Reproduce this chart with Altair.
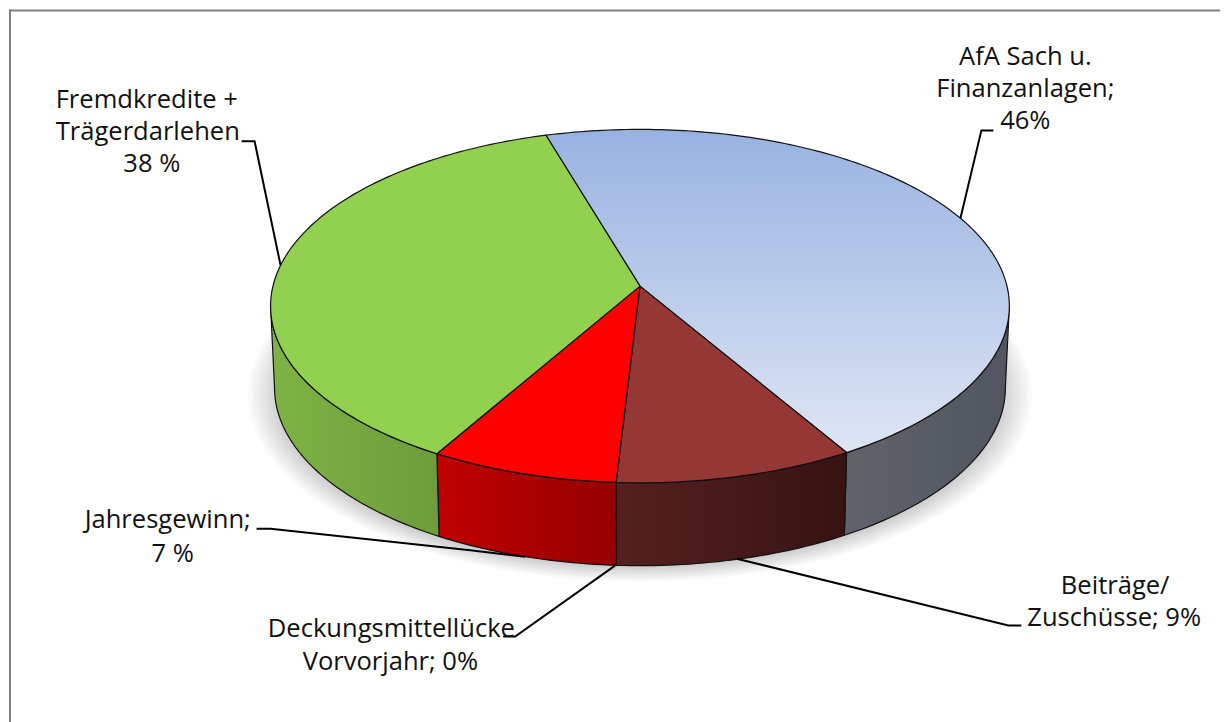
import math
import altair as alt
import pandas as pd

# Slices, clockwise from the green/blue boundary
categories = ["AfA Sach u. Finanzanlagen", "Beiträge/Zuschüsse", "Deckungsmittellücke Vorvorjahr", "Jahresgewinn", "Fremdkredite + Trägerdarlehen"]
shares = [46.1, 9.4, 0.0, 7.4, 37.1]

top_fills = [
    alt.LinearGradient(gradient="linear", x1=0, y1=0, x2=0, y2=1,
                       stops=[alt.GradientStop(offset=0, color="#98b2e0"), alt.GradientStop(offset=1, color="#dee6f4")]),
    "#953735", "#bfbfbf", "#ff0000", "#92d050",
]
side_cols = [("#606369", "#50555f"), ("#55201f", "#361312"), ("#888888", "#888888"), ("#bf0000", "#950000"), ("#7fb344", "#6d9c3c")]

label_lines = ["AfA Sach u.", "Finanzanlagen;", "46%", "Fremdkredite +", "Trägerdarlehen", "38 %", "Jahresgewinn;", "7 %",
               "Deckungsmittellücke", "Vorvorjahr; 0%", "Beiträge/", "Zuschüsse; 9%"]
label_x = [1026, 1026, 1026, 146, 147, 151, 167, 172, 391, 390, 1116, 1115]
label_y = [65, 97, 129, 108, 140, 172, 528, 562, 637, 671, 594, 626]

leaders = [
    [(994, 130), (982, 130), (961, 218)],
    [(241, 141), (254, 141), (280, 265)],
    [(256, 529), (270, 529), (470, 550.5), (525, 557)],
    [(503, 637), (515, 637), (615, 566)],
    [(737, 559), (1009, 626), (1022, 626)],
]

CX, CY, RX, RY = 640.0, 306.0, 370.0, 177.0
BCY, BRX, BRY = 388.0, 366.0, 178.0
E = 0.113
START = 106.5
S = math.sqrt(1 - E * E)


def unit(phi):
    a = math.radians(phi)
    x, y = math.cos(a), math.sin(a)
    d = 1 + E * y
    return x * S / d, (y + E) / d


def top(phi):
    x, y = unit(phi)
    return CX + RX * x, CY - RY * y


def bottom(phi):
    x, y = unit(phi)
    return CX + BRX * x, BCY - BRY * y


def arc(a, b):
    n = max(1, int(abs(b - a)))
    return [a + (b - a) * i / n for i in range(n + 1)]


def frame(points):
    return pd.DataFrame([{"px": p[0], "py": p[1], "i": i} for i, p in enumerate(points)])


xs = alt.Scale(domain=[8, 1221], nice=False, zero=False)
ys = alt.Scale(domain=[723, 9], nice=False, zero=False)


def enc(ch):
    return ch.encode(
        x=alt.X("px:Q", scale=xs, axis=None),
        y=alt.Y("py:Q", scale=ys, axis=None),
        order=alt.Order("i:Q"),
    )


layers = []

# soft shadow: nested translucent ellipses give an elliptical fade
for r in range(12):
    f = 1.0 - r * 0.0085
    sh = [(640 + 393 * f * math.cos(math.radians(a)), 395 + 187 * f * math.sin(math.radians(a))) for a in range(0, 361, 3)]
    layers.append(enc(alt.Chart(frame(sh)).mark_line(fill="#000000", fillOpacity=0.02, strokeOpacity=0)))

# slice angle ranges
bounds = [START]
for s in shares:
    bounds.append(bounds[-1] - s * 3.6)

front_right = -math.degrees(math.asin(E))
front_left = -180 - front_right

# sides
for k, s in enumerate(shares):
    if s == 0:
        continue
    a, b = bounds[k], bounds[k + 1]
    a2 = max(min(a, front_right), front_left)
    b2 = max(min(b, front_right), front_left)
    if a2 <= b2:
        continue
    phis = arc(a2, b2)
    pts = [top(p) for p in phis] + [bottom(p) for p in reversed(phis)]
    pts.append(pts[0])
    c0, c1 = side_cols[k]
    g = alt.LinearGradient(gradient="linear", x1=0, y1=0, x2=1, y2=0,
                           stops=[alt.GradientStop(offset=0, color=c0), alt.GradientStop(offset=1, color=c1)])
    layers.append(enc(alt.Chart(frame(pts)).mark_line(fill=g, stroke="#111111", strokeWidth=1.2, strokeJoin="round")))

# tops
apex = (CX, CY - RY * E)
for k, s in enumerate(shares):
    if s == 0:
        continue
    pts = [apex] + [top(p) for p in arc(bounds[k], bounds[k + 1])] + [apex]
    layers.append(enc(alt.Chart(frame(pts)).mark_line(fill=top_fills[k], stroke="#111111", strokeWidth=1.2, strokeJoin="round")))

# leaders
for pts in leaders:
    layers.append(enc(alt.Chart(frame(pts)).mark_line(stroke="#000000", strokeWidth=2)))

# labels
labels = pd.DataFrame({"t": label_lines, "px": label_x, "py": label_y})
layers.append(alt.Chart(labels).mark_text(font="Open Sans", fontSize=25.6, color="#111111", align="center", baseline="alphabetic").encode(
    x=alt.X("px:Q", scale=xs, axis=None),
    y=alt.Y("py:Q", scale=ys, axis=None),
    text="t:N",
))

# outer frame
border = alt.Chart(pd.DataFrame({"a": [0]}))
layers.append(border.mark_rule(color="#808080", strokeWidth=2).encode(x=alt.value(1), y=alt.value(0), y2=alt.value(714)))
layers.append(border.mark_rule(color="#808080", strokeWidth=2).encode(y=alt.value(1), x=alt.value(0), x2=alt.value(1213)))

chart = alt.layer(*layers).properties(width=1213, height=714, padding=0, background="#ffffff").configure_view(stroke=None)
chart.save("out.html", embed_options={"renderer": "svg", "actions": False})
